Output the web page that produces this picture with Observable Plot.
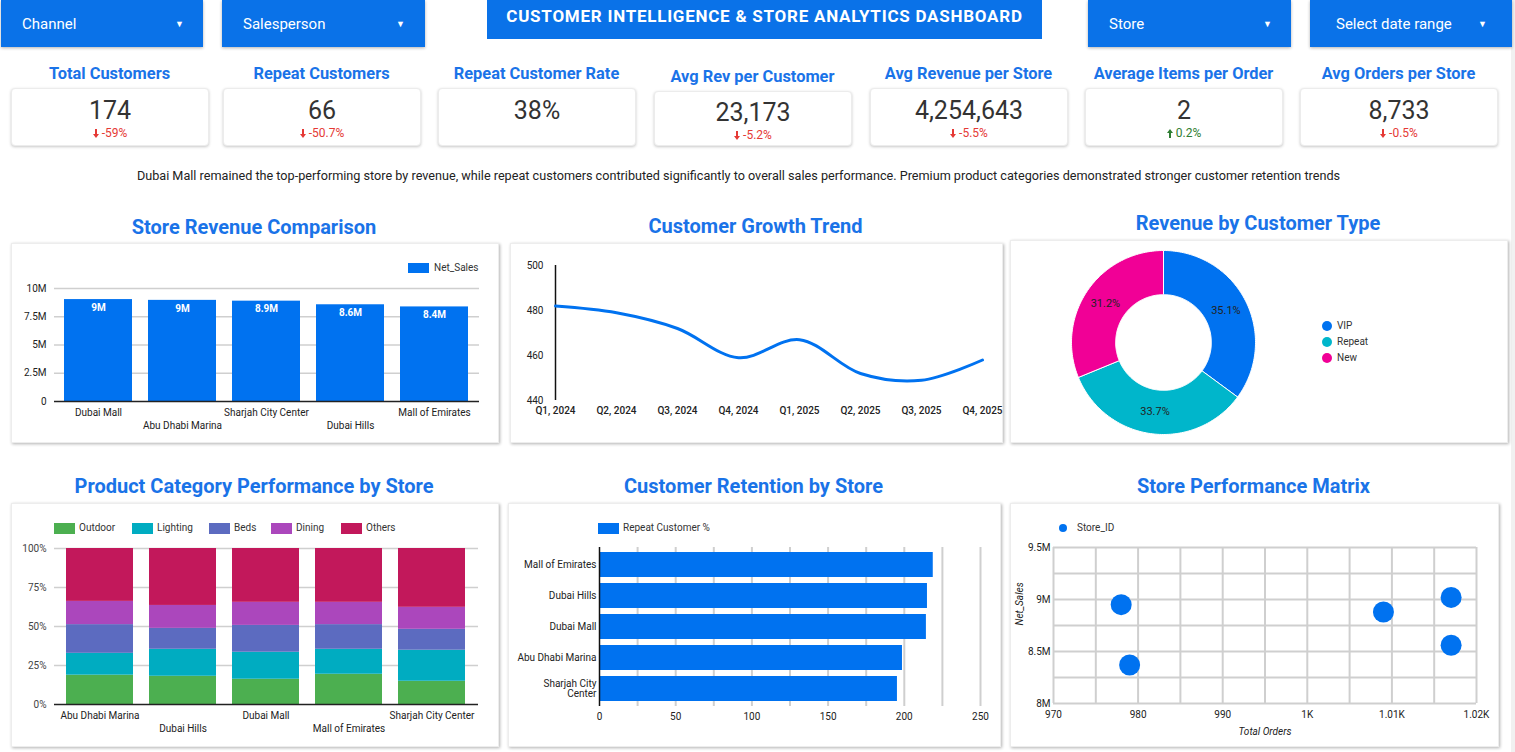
<!DOCTYPE html>
<html>
<head>
<meta charset="utf-8">
<script src="https://cdn.jsdelivr.net/npm/d3@7"></script>
<script src="https://cdn.jsdelivr.net/npm/@observablehq/plot@0.6"></script>
<style>
  body { margin: 0; background: #fff; font-family: Roboto, "Noto Sans", sans-serif; }
  #page { position: relative; width: 1515px; height: 752px; overflow: hidden; background: #fff; }
  .abs { position: absolute; }
  .btn { background: #0a72e8; color: #fff; font-size: 15px; box-shadow: 0 1px 3px rgba(0,0,0,0.3); }
  .btn .lbl { position: absolute; top: 50%; transform: translateY(-50%); }
  .btn .caret { position: absolute; top: 50%; transform: translateY(-55%); font-size: 9px; }
  .head { background: #0a72e8; color: #fff; font-weight: 700; font-size: 17px; letter-spacing: 0.75px; text-align: center; line-height: 32px; }
  .kpi-title { color: #1a73e8; font-weight: 700; font-size: 16.4px; text-align: center; white-space: nowrap; }
  .kpi { background: #fff; border-radius: 4px; border: 1px solid #ececec; box-shadow: 0 1px 3px rgba(0,0,0,0.22); text-align: center; }
  .kpi .val { font-size: 25px; color: #333; position: absolute; left: 0; right: 0; }
  .kpi .delta { font-size: 12px; position: absolute; left: 0; right: 0; }
  .note { font-size: 12.65px; color: #222; text-align: center; white-space: nowrap; }
  .ctitle { color: #1a73e8; font-weight: 700; font-size: 20px; text-align: center; white-space: nowrap; }
  .card { background: #fff; border: 1px solid #ededed; box-shadow: 1px 1px 3px rgba(0,0,0,0.3); }
  .card svg { position: absolute; left: 0; top: 0; }
  .leg { position: absolute; font-size: 10px; color: #333; white-space: nowrap; line-height: 12px; }
  .sw { display: inline-block; vertical-align: middle; }
  .edge { background: #f1f1f1; }
</style>
</head>
<body>
<div id="page"></div>
<script>
// ---------- data ----------
const blue = "#0072f0";

const filters = ["Channel", "Salesperson", "Store", "Select date range"];
const dashboardTitle = "CUSTOMER INTELLIGENCE & STORE ANALYTICS DASHBOARD";

const kpiTitles = ["Total Customers", "Repeat Customers", "Repeat Customer Rate", "Avg Rev per Customer",
                   "Avg Revenue per Store", "Average Items per Order", "Avg Orders per Store"];
const kpiValues = ["174", "66", "38%", "23,173", "4,254,643", "2", "8,733"];
const kpiDeltas = [-59, -50.7, null, -5.2, -5.5, 0.2, -0.5];

const summary = "Dubai Mall remained the top-performing store by revenue, while repeat customers contributed significantly to overall sales performance. Premium product categories demonstrated stronger customer retention trends";

// store revenue and orders
const stores = ["Dubai Mall", "Abu Dhabi Marina", "Sharjah City Center", "Dubai Hills", "Mall of Emirates"];
const netSales = [9.02e6, 8.95e6, 8.88e6, 8.56e6, 8.37e6];
const totalOrders = [1017, 978, 1009, 1017, 979];

// customer trend by quarter
const quarters = ["Q1, 2024", "Q2, 2024", "Q3, 2024", "Q4, 2024", "Q1, 2025", "Q2, 2025", "Q3, 2025", "Q4, 2025"];
const customerCounts = [482, 479, 472, 459, 467, 452, 449, 458];

// revenue share by customer type
const customerTypes = ["VIP", "Repeat", "New"];
const typeShares = [35.1, 33.7, 31.2];
const typeColors = ["#0072f0", "#00b6cb", "#f10096"];

// product category mix (% of store sales)
const mixStores = ["Abu Dhabi Marina", "Dubai Hills", "Dubai Mall", "Mall of Emirates", "Sharjah City Center"];
const categories = ["Outdoor", "Lighting", "Beds", "Dining", "Others"];
const categoryColors = ["#4caf50", "#00acc1", "#5c6bc0", "#ab47bc", "#c2185b"];
const outdoorShare  = [18.8, 18.1, 16.2, 19.4, 14.9];
const lightingShare = [14.0, 17.3, 17.3, 16.0, 19.9];
const bedsShare     = [18.4, 13.4, 17.2, 15.8, 13.4];
const diningShare   = [14.9, 14.7, 14.8, 14.3, 14.1];
const othersShare   = [33.9, 36.5, 34.5, 34.5, 37.7];

// repeat customer % by store
const retentionStores = ["Mall of Emirates", "Dubai Hills", "Dubai Mall", "Abu Dhabi Marina", "Sharjah City Center"];
const repeatPct = [219, 215.2, 214.5, 198.8, 195.5];

// ---------- helpers ----------
const page = document.getElementById("page");
function el(tag, cls, style, html) {
  const e = document.createElement(tag);
  if (cls) e.className = cls;
  Object.assign(e.style, style || {});
  if (html != null) e.innerHTML = html;
  return e;
}
function place(node, x, y, w, h) {
  node.classList.add("abs");
  node.style.left = x + "px"; node.style.top = y + "px";
  if (w != null) node.style.width = w + "px";
  if (h != null) node.style.height = h + "px";
  page.appendChild(node);
  return node;
}
const plotStyle = {fontFamily: "Roboto, sans-serif", fontSize: "10px", color: "#222", background: "transparent", overflow: "visible"};
const compact = d => d === 0 ? "0" : d3.format("~s")(d).replace("k", "K");

// faint page edge on the right
place(el("div", "edge"), 1511, 0, 4, 752);

// ---------- header ----------
const btnBoxes = [[1, 202, 21, 178], [222, 203, 21, 178], [1088, 203, 21, 179], [1310, 202, 26, 172]];
filters.forEach((f, i) => {
  const [x, w, tx, cx] = btnBoxes[i];
  const b = place(el("div", "btn"), x, 0, w, 47);
  b.appendChild(el("span", "lbl", {left: tx + "px"}, f));
  b.appendChild(el("span", "caret", {left: (cx - 4) + "px"}, "&#9660;"));
});
place(el("div", "head", {}, dashboardTitle), 487, 0, 555, 39);

// ---------- KPI cards ----------
const kpiX = [11, 223, 438, 654, 870, 1085, 1300];
kpiTitles.forEach((t, i) => {
  const shift = i === 3 ? 3 : 0;
  place(el("div", "kpi-title", {lineHeight: "20px"}, t), kpiX[i] - 10, 64 + shift, 217, 20);
  const card = place(el("div", "kpi"), kpiX[i], 88 + shift, 196, 56 - shift);
  card.appendChild(el("div", "val", {top: (8 - shift / 2) + "px", lineHeight: "28px"}, kpiValues[i]));
  const d = kpiDeltas[i];
  if (d != null) {
    const up = d > 0;
    const col = up ? "#2e7d32" : "#e53935";
    const arrow = up
      ? `<svg width="6" height="9" style="vertical-align:-1px;margin-right:3px"><path d="M3 0 L6 4 L4 4 L4 9 L2 9 L2 4 L0 4 Z" fill="${col}"/></svg>`
      : `<svg width="6" height="9" style="vertical-align:-1px;margin-right:3px"><path d="M2 0 L4 0 L4 5 L6 5 L3 9 L0 5 L2 5 Z" fill="${col}"/></svg>`;
    card.appendChild(el("div", "delta", {top: (37 - shift / 2) + "px", color: col, lineHeight: "14px"}, arrow + String(d) + "%"));
  }
});

place(el("div", "note", {lineHeight: "16px"}, summary), 0, 168, 1477, 16);

// ---------- chart cards ----------
function chartCard(title, titleY, x, y, w, h) {
  place(el("div", "ctitle", {lineHeight: "24px"}, title), x - 40, titleY - 12, w + 80, 24);
  return place(el("div", "card"), x, y, w, h);
}

// 1. Store Revenue Comparison
{
  const card = chartCard("Store Revenue Comparison", 227, 11, 243, 486, 198);
  const rows = stores.map((s, i) => ({store: s, sales: netSales[i]}));
  const ticks = [0, 2.5e6, 5e6, 7.5e6, 1e7];
  card.appendChild(Plot.plot({
    width: 486, height: 198, marginLeft: 42, marginRight: 19, marginTop: 44, marginBottom: 41,
    style: plotStyle,
    x: {domain: stores, paddingInner: 0.19, paddingOuter: 0.12, axis: null},
    y: {domain: [0, 1e7], axis: null},
    marks: [
      Plot.gridY(ticks.slice(1), {stroke: "#cfcfcf", strokeOpacity: 1, strokeWidth: 1.5}),
      Plot.axisY(ticks, {tickSize: 0, tickPadding: 8, tickFormat: compact, label: null, fill: "#222"}),
      Plot.barY(rows, {x: "store", y: "sales", fill: blue}),
      Plot.text(rows, {x: "store", y: "sales", text: d => compact(+d3.format(".2r")(d.sales)), dy: 8, fill: "#fff", fontWeight: "bold", fontSize: 10}),
      Plot.ruleY([0], {stroke: "#222", strokeWidth: 1.5}),
      Plot.axisX(stores.filter((d, i) => i % 2 === 0), {tickSize: 0, tickPadding: 7, label: null, fill: "#222"}),
      Plot.axisX(stores.filter((d, i) => i % 2 === 1), {tickSize: 0, tickPadding: 20, label: null, fill: "#222"})
    ]
  }));
  card.appendChild(el("div", "leg", {left: "396px", top: "18px"},
    `<span class="sw" style="width:21px;height:10px;background:${blue};margin-right:5px"></span>Net_Sales`));
}

// 2. Customer Growth Trend
{
  const card = chartCard("Customer Growth Trend", 226, 510, 243, 491, 198);
  const rows = quarters.map((q, i) => ({quarter: q, customers: customerCounts[i]}));
  card.appendChild(Plot.plot({
    width: 491, height: 198, marginLeft: 43, marginRight: 20, marginTop: 21, marginBottom: 42,
    style: plotStyle,
    x: {type: "point", domain: quarters, padding: 0, axis: null},
    y: {domain: [440, 500], axis: null},
    marks: [
      Plot.axisY([440, 460, 480, 500], {tickSize: 0, tickPadding: 11, label: null, fill: "#222"}),
      Plot.ruleX([quarters[0]], {stroke: "#111", strokeWidth: 1.5}),
      Plot.line(rows, {x: "quarter", y: "customers", curve: "catmull-rom", stroke: blue, strokeWidth: 3}),
      Plot.axisX(quarters, {tickSize: 0, tickPadding: 6, label: null, fill: "#222", fontWeight: 500})
    ]
  }));
}

// 3. Revenue by Customer Type (donut)
{
  const card = chartCard("Revenue by Customer Type", 223, 1010, 240, 496, 201);
  const total = d3.sum(typeShares);
  const inner = 0.52;
  let acc = 0;
  const slices = customerTypes.map((t, i) => {
    const a0 = acc / total * 2 * Math.PI;
    acc += typeShares[i];
    const a1 = acc / total * 2 * Math.PI;
    return {type: t, share: typeShares[i], a0, a1, mid: (a0 + a1) / 2};
  });
  const ring = slices.flatMap(s => {
    const n = Math.max(8, Math.ceil((s.a1 - s.a0) / 0.02));
    const outer = d3.range(n + 1).map(k => s.a0 + (s.a1 - s.a0) * k / n);
    const pts = outer.map(a => ({type: s.type, x: Math.sin(a), y: Math.cos(a)}))
      .concat(outer.slice().reverse().map(a => ({type: s.type, x: inner * Math.sin(a), y: inner * Math.cos(a)})));
    pts.push(pts[0]);
    return pts;
  });
  card.appendChild(Plot.plot({
    width: 496, height: 201, marginLeft: 60, marginRight: 252, marginTop: 9, marginBottom: 8,
    style: plotStyle,
    x: {domain: [-1, 1], axis: null},
    y: {domain: [-1, 1], axis: null},
    color: {domain: customerTypes, range: typeColors},
    marks: [
      Plot.line(ring, {x: "x", y: "y", z: "type", fill: "type", stroke: "#fff", strokeWidth: 1, curve: "linear"}),
      Plot.text(slices, {x: d => 0.76 * Math.sin(d.mid), y: d => 0.76 * Math.cos(d.mid), text: d => d.share.toFixed(1) + "%", fill: "#222", fontSize: 11})
    ]
  }));
  customerTypes.forEach((t, i) => {
    card.appendChild(el("div", "leg", {left: "311px", top: (79 + i * 16) + "px", fontSize: "10px"},
      `<span class="sw" style="width:10px;height:10px;border-radius:50%;background:${typeColors[i]};margin-right:5px"></span>${t}`));
  });
}

// 4. Product Category Performance by Store
{
  const card = chartCard("Product Category Performance by Store", 486, 11, 503, 486, 242);
  const shares = [outdoorShare, lightingShare, bedsShare, diningShare, othersShare];
  const rows = mixStores.flatMap((s, i) => categories.map((c, j) => ({store: s, category: c, share: shares[j][i]})));
  const ticks = [0, 0.25, 0.5, 0.75, 1];
  card.appendChild(Plot.plot({
    width: 486, height: 242, marginLeft: 42, marginRight: 20, marginTop: 44, marginBottom: 42,
    style: plotStyle,
    x: {domain: mixStores, paddingInner: 0.19, paddingOuter: 0.12, axis: null},
    y: {domain: [0, 1], axis: null},
    color: {domain: categories, range: categoryColors},
    marks: [
      Plot.gridY(ticks.slice(1), {stroke: "#cfcfcf", strokeOpacity: 1, strokeWidth: 1.5}),
      Plot.axisY(ticks, {tickSize: 0, tickPadding: 8, tickFormat: d3.format(".0%"), label: null, fill: "#444"}),
      Plot.barY(rows, {x: "store", y: "share", fill: "category", z: "category", order: categories, offset: "normalize"}),
      Plot.ruleY([0], {stroke: "#222", strokeWidth: 1.5}),
      Plot.axisX(mixStores.filter((d, i) => i % 2 === 0), {tickSize: 0, tickPadding: 7, label: null, fill: "#222"}),
      Plot.axisX(mixStores.filter((d, i) => i % 2 === 1), {tickSize: 0, tickPadding: 20, label: null, fill: "#222"})
    ]
  }));
  const legX = [42, 120, 197, 259, 329];
  categories.forEach((c, i) => {
    card.appendChild(el("div", "leg", {left: legX[i] + "px", top: "18px"},
      `<span class="sw" style="width:21px;height:11px;background:${categoryColors[i]};margin-right:4px"></span>${c}`));
  });
}

// 5. Customer Retention by Store
{
  const card = chartCard("Customer Retention by Store", 486, 508, 503, 491, 242);
  const rows = retentionStores.map((s, i) => ({store: s, pct: repeatPct[i]}));
  card.appendChild(Plot.plot({
    width: 491, height: 242, marginLeft: 90, marginRight: 20, marginTop: 43, marginBottom: 40,
    style: plotStyle,
    x: {domain: [0, 250], axis: null},
    y: {domain: retentionStores, paddingInner: 0.18, paddingOuter: 0.09, axis: null},
    marks: [
      Plot.gridX(d3.range(25, 251, 25), {stroke: "#cfcfcf", strokeOpacity: 1, strokeWidth: 2}),
      Plot.barX(rows, {x: "pct", y: "store", fill: blue}),
      Plot.ruleX([0], {stroke: "#111", strokeWidth: 1.5}),
      Plot.axisX(d3.range(0, 251, 50), {tickSize: 0, tickPadding: 6, label: null, fill: "#222"}),
      Plot.axisY(retentionStores, {tickSize: 0, tickPadding: 3, label: null, fill: "#222",
        tickFormat: d => d === "Sharjah City Center" ? "Sharjah City\nCenter" : d})
    ]
  }));
  card.appendChild(el("div", "leg", {left: "89px", top: "18px"},
    `<span class="sw" style="width:21px;height:11px;background:${blue};margin-right:4px"></span>Repeat Customer %`));
}

// 6. Store Performance Matrix
{
  const card = chartCard("Store Performance Matrix", 486, 1010, 503, 487, 242);
  const rows = stores.map((s, i) => ({store: s, orders: totalOrders[i], sales: netSales[i]}));
  card.appendChild(Plot.plot({
    width: 487, height: 242, marginLeft: 42, marginRight: 22, marginTop: 43, marginBottom: 43,
    style: plotStyle,
    x: {domain: [970, 1020], axis: null},
    y: {domain: [8e6, 9.5e6], axis: null},
    marks: [
      Plot.gridX(d3.range(970, 1021, 5), {stroke: "#cfcfcf", strokeOpacity: 1, strokeWidth: 2}),
      Plot.gridY(d3.range(8e6, 9.5e6 + 1, 2.5e5), {stroke: "#cfcfcf", strokeOpacity: 1, strokeWidth: 2}),
      Plot.dot(rows, {x: "orders", y: "sales", r: 10.5, fill: blue}),
      Plot.axisX(d3.range(970, 1021, 10), {tickSize: 0, tickPadding: 7, tickFormat: compact, label: null, fill: "#222"}),
      Plot.axisY(d3.range(8e6, 9.5e6 + 1, 5e5), {tickSize: 0, tickPadding: 3, tickFormat: compact, label: null, fill: "#222"}),
      Plot.text(["Total Orders"], {frameAnchor: "bottom", dy: 31, fontStyle: "italic", fill: "#222"}),
      Plot.text(["Net_Sales"], {frameAnchor: "left", dx: -34, rotate: -90, fontStyle: "italic", fill: "#222"})
    ]
  }));
  card.appendChild(el("div", "leg", {left: "48px", top: "18px"},
    `<span class="sw" style="width:8px;height:8px;border-radius:50%;background:${blue};margin-right:10px"></span>Store_ID`));
}
</script>
</body>
</html>
